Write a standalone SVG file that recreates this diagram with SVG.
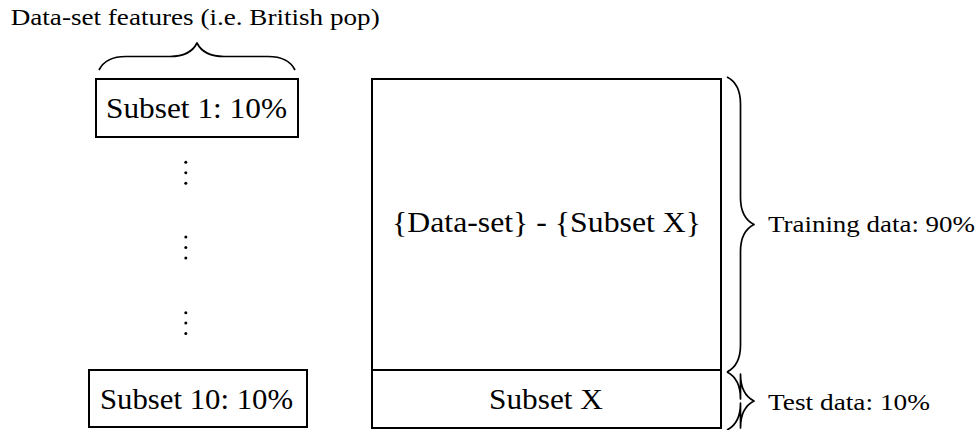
<svg xmlns="http://www.w3.org/2000/svg" width="977" height="430" viewBox="0 0 977 430">
  <style>
    .box { fill: #ffffff; stroke: #000000; stroke-width: 2; }
    .brace { fill: none; stroke: #000000; stroke-width: 1.7; stroke-linejoin: round; }
    .big { font-family: "Liberation Serif", "DejaVu Serif", serif; font-size: 29px; fill: #000000; }
    .small { font-family: "Liberation Serif", "DejaVu Serif", serif; font-size: 22.5px; fill: #000000; }
    .dot { fill: #000000; }
  </style>

  <!-- heading above the subset column -->
  <g id="title">
    <text class="small" x="10.7" y="25" textLength="369" lengthAdjust="spacingAndGlyphs">Data-set features (i.e. British pop)</text>
  </g>

  <!-- left column: subsets -->
  <g id="subset1">
    <rect class="box" x="96" y="79" width="202" height="58"/>
    <text class="big" x="106" y="118" textLength="181" lengthAdjust="spacingAndGlyphs">Subset 1: 10%</text>
  </g>
  <g id="vdots1">
    <circle class="dot" cx="185.8" cy="162.3" r="1.5"/>
    <circle class="dot" cx="185.8" cy="172.8" r="1.5"/>
    <circle class="dot" cx="185.8" cy="183.3" r="1.5"/>
  </g>
  <g id="vdots2">
    <circle class="dot" cx="185.8" cy="237" r="1.5"/>
    <circle class="dot" cx="185.8" cy="247.5" r="1.5"/>
    <circle class="dot" cx="185.8" cy="258" r="1.5"/>
  </g>
  <g id="vdots3">
    <circle class="dot" cx="185.8" cy="312.7" r="1.5"/>
    <circle class="dot" cx="185.8" cy="323.1" r="1.5"/>
    <circle class="dot" cx="185.8" cy="333.5" r="1.5"/>
  </g>
  <g id="subset10">
    <rect class="box" x="89" y="370" width="218" height="57"/>
    <text class="big" x="100" y="409" textLength="193" lengthAdjust="spacingAndGlyphs">Subset 10: 10%</text>
  </g>

  <!-- right column: training / test split -->
  <g id="training">
    <rect class="box" x="372" y="79" width="349" height="291"/>
    <text class="big" x="392" y="232" textLength="309" lengthAdjust="spacingAndGlyphs">{Data-set} - {Subset X}</text>
  </g>
  <g id="test">
    <rect class="box" x="372" y="370" width="349" height="58"/>
    <text class="big" x="489" y="409" textLength="114" lengthAdjust="spacingAndGlyphs">Subset X</text>
  </g>

  <!-- curly braces -->
  <g id="connectors">
    <path class="brace" d="M99,70 C103.05,61.9 112.5,56.5 126,56.5 L170,56.5 C183.5,56.5 192.95,51.1 197,43 C201.05,51.1 210.5,56.5 224,56.5 L268,56.5 C281.5,56.5 290.95,61.9 295,70"/>
    <path class="brace" d="M727,77 C735.1,81.05 740.5,90.5 740.5,104 L740.5,197.5 C740.5,211 745.9,220.45 754,224.5 C745.9,228.55 740.5,238 740.5,251.5 L740.5,345 C740.5,358.5 735.1,367.95 727,372"/>
    <path class="brace" d="M727,372 C735.1,376.05 740.5,385.5 740.5,399 L740.5,374 C740.5,387.5 745.9,396.95 754,401 C745.9,405.05 740.5,414.5 740.5,428 L740.5,403 C740.5,416.5 735.1,425.95 727,430"/>
  </g>

  <g id="label-training">
    <text class="small" x="768" y="232" textLength="207" lengthAdjust="spacingAndGlyphs">Training data: 90%</text>
  </g>
  <g id="label-test">
    <text class="small" x="768" y="410" textLength="162" lengthAdjust="spacingAndGlyphs">Test data: 10%</text>
  </g>
</svg>
